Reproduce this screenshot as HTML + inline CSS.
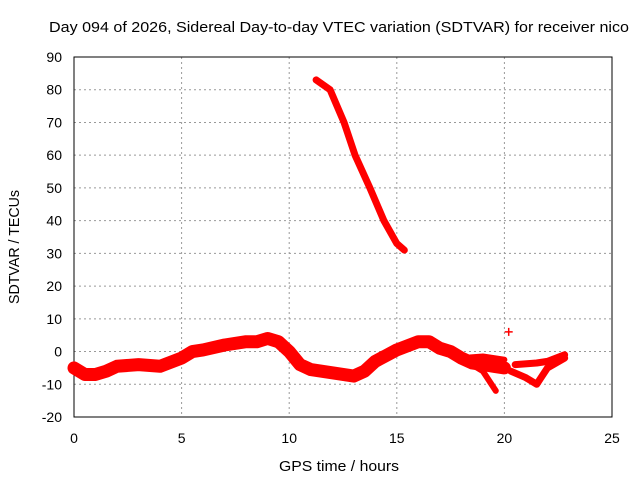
<!DOCTYPE html>
<html><head><meta charset="utf-8"><style>
body{margin:0;background:#fff;font-family:"Liberation Sans",sans-serif;}
svg text{font-family:"Liberation Sans",sans-serif;font-size:14px;fill:#000;}
</style></head><body>
<svg id="c" width="640" height="480">
<text x="339" y="32" text-anchor="middle" textLength="580" lengthAdjust="spacingAndGlyphs" style="font-size:15px">Day 094 of 2026, Sidereal Day-to-day VTEC variation (SDTVAR) for receiver nico</text>
<text x="339" y="471" text-anchor="middle" textLength="120" lengthAdjust="spacingAndGlyphs" style="font-size:15px">GPS time / hours</text>
<text x="19" y="247" text-anchor="middle" transform="rotate(-90 19 247)" textLength="114" lengthAdjust="spacingAndGlyphs" style="font-size:15px">SDTVAR / TECUs</text>
</svg>
<script>
const xTicks=[0,5,10,15,20,25];
const yTicks=[-20,-10,0,10,20,30,40,50,60,70,80,90];
const topH=[11.25,11.9,12.55,13.06,13.75,14.4,15.0,15.35];
const topV=[83,80,70,60,50,40,33,31];
const mainH=[0,0.5,1,1.5,2,3,4,5,5.5,6,7,8,8.5,9,9.5,10,10.5,11,12,12.5,13,13.5,14,15,16,16.5,17,17.5,18,18.5,19,19.5,20];
const mainV=[-5,-7,-7,-6,-4.5,-4,-4.5,-2,0,0.5,2,3,3,4,3,0,-4,-5.5,-6.5,-7,-7.5,-6,-3,0.5,3,3,1,0,-2,-3.5,-4,-4.5,-5];
const upH=[18,19,20];
const upV=[-2,-1.5,-2.5];
const lowH=[18.5,19,19.6];
const lowV=[-4,-6,-12];
const lateAH=[20.3,21,21.5,22,22.8];
const lateAV=[-6,-8,-10,-5,-2];
const lateBH=[20.5,21.5,22,22.8];
const lateBV=[-4,-3.5,-3,-1];
const isoH=[20.2];
const isoV=[6];
const X=h=>74+h*21.52;
const Y=v=>57+(90-v)*3.2727;
const svg=document.getElementById('c');
const NS='http://www.w3.org/2000/svg';
function mk(t,a){const e=document.createElementNS(NS,t);for(const k in a)e.setAttribute(k,a[k]);svg.appendChild(e);return e;}
xTicks.forEach(t=>{
 if(t>0&&t<25){const g=mk('line',{x1:X(t),x2:X(t),y1:57,y2:417,stroke:'#999','stroke-dasharray':'2,3'});
 
 }
 const l=mk('text',{x:X(t),y:443,'text-anchor':'middle'});l.textContent=t;
 
 
});
yTicks.forEach(t=>{
 if(t>-20&&t<90){const g=mk('line',{x1:74,x2:612,y1:Y(t),y2:Y(t),stroke:'#999','stroke-dasharray':'2,3'});
 
 }
 const l=mk('text',{x:62,y:Y(t)+5,'text-anchor':'end'});l.textContent=t;
 
 
});
const fr=mk('rect',{x:74,y:57,width:538,height:360,fill:'none',stroke:'#000','stroke-width':1});


function band(H,V,w,name){
 const p=mk('polyline',{points:H.map((h,i)=>X(h)+','+Y(V[i])).join(' '),fill:'none',stroke:'#f00','stroke-width':w,'stroke-linejoin':'round','stroke-linecap':'round'});
 
 
}
band(topH,topV,7,'series-high-arc');
band(mainH,mainV,13,'series-main-band');
band(upH,upV,6,'series-upper-branch');
band(lowH,lowV,6,'series-lower-branch');
band(lateAH,lateAV,7,'series-late-a');
band(lateBH,lateBV,7,'series-late-b');
isoH.forEach((h,i)=>{
 const p=mk('path',{d:`M${X(h)-4},${Y(isoV[i])}h8M${X(h)},${Y(isoV[i])-4}v8`,stroke:'#f00','stroke-width':1.5});
 
 
});
</script>
</body></html>
